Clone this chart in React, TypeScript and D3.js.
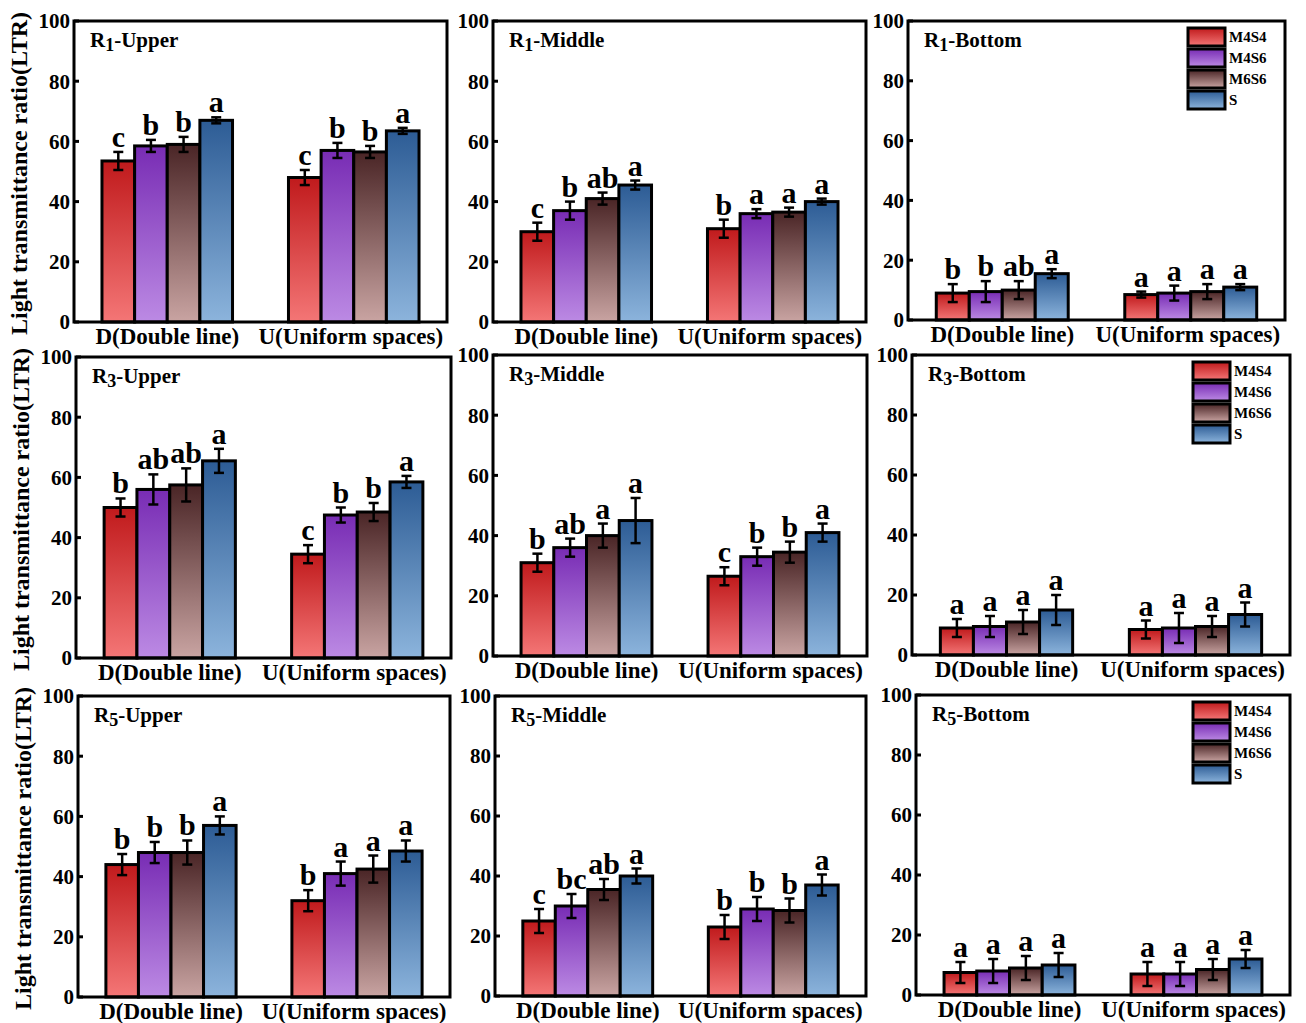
import React from 'react';
import * as d3 from 'd3';

const groups = ['D(Double line)', 'U(Uniform spaces)'];
const series = ['M4S4', 'M4S6', 'M6S6', 'S'];
const yTicks = [0, 20, 40, 60, 80, 100];
const yTitle = 'Light transmittance ratio(LTR)';

const panelRegion = ['1', '1', '1', '3', '3', '3', '5', '5', '5'];
const panelLayer = ['Upper', 'Middle', 'Bottom', 'Upper', 'Middle', 'Bottom', 'Upper', 'Middle', 'Bottom'];

// means [D values, U values] for each panel
const r1UpperMean = [[53.5, 58.5, 59, 67], [48, 57, 56.5, 63.5]];
const r1UpperErr = [[3, 2, 2.5, 1], [2.5, 2.5, 2, 1]];
const r1UpperSig = [['c', 'b', 'b', 'a'], ['c', 'b', 'b', 'a']];

const r1MiddleMean = [[30, 37, 41, 45.5], [31, 36, 36.5, 40]];
const r1MiddleErr = [[3, 3, 2, 1.5], [3, 1.5, 1.5, 1]];
const r1MiddleSig = [['c', 'b', 'ab', 'a'], ['b', 'a', 'a', 'a']];

const r1BottomMean = [[9, 9.5, 10, 15.5], [8.5, 9, 9.5, 11]];
const r1BottomErr = [[3, 3.5, 3, 1.5], [1, 2.5, 2.5, 1]];
const r1BottomSig = [['b', 'b', 'ab', 'a'], ['a', 'a', 'a', 'a']];

const r3UpperMean = [[50, 56, 57.5, 65.5], [34.5, 47.5, 48.5, 58.5]];
const r3UpperErr = [[3, 5, 5.5, 4], [3, 2.5, 3, 2]];
const r3UpperSig = [['b', 'ab', 'ab', 'a'], ['c', 'b', 'b', 'a']];

const r3MiddleMean = [[31, 36, 40, 45], [26.5, 33, 34.5, 41]];
const r3MiddleErr = [[3, 3, 4, 7.5], [3, 3, 3.5, 3]];
const r3MiddleSig = [['b', 'ab', 'a', 'a'], ['c', 'b', 'b', 'a']];

const r3BottomMean = [[9, 9.5, 11, 15], [8.5, 9, 9.5, 13.5]];
const r3BottomErr = [[3, 3.5, 4, 5], [3, 5, 3.5, 4]];
const r3BottomSig = [['a', 'a', 'a', 'a'], ['a', 'a', 'a', 'a']];

const r5UpperMean = [[44, 48, 48, 57], [32, 41, 42.5, 48.5]];
const r5UpperErr = [[3.5, 3.5, 4, 3], [3.5, 4, 4.5, 3.5]];
const r5UpperSig = [['b', 'b', 'b', 'a'], ['b', 'a', 'a', 'a']];

const r5MiddleMean = [[25, 30, 35.5, 40], [23, 29, 28.5, 37]];
const r5MiddleErr = [[4, 4, 3.5, 2.5], [4, 4, 4, 3.5]];
const r5MiddleSig = [['c', 'bc', 'ab', 'a'], ['b', 'b', 'b', 'a']];

const r5BottomMean = [[7.5, 8, 9, 10], [7, 7, 8.5, 12]];
const r5BottomErr = [[3.5, 4, 4, 4], [4, 4, 3.5, 3]];
const r5BottomSig = [['a', 'a', 'a', 'a'], ['a', 'a', 'a', 'a']];

const allMeans = [r1UpperMean, r1MiddleMean, r1BottomMean, r3UpperMean, r3MiddleMean, r3BottomMean, r5UpperMean, r5MiddleMean, r5BottomMean];
const allErrs = [r1UpperErr, r1MiddleErr, r1BottomErr, r3UpperErr, r3MiddleErr, r3BottomErr, r5UpperErr, r5MiddleErr, r5BottomErr];
const allSigs = [r1UpperSig, r1MiddleSig, r1BottomSig, r3UpperSig, r3MiddleSig, r3BottomSig, r5UpperSig, r5MiddleSig, r5BottomSig];

// layout (pixel frames of each panel)
const frames = [
  { l: 74, r: 447, t: 21, b: 322 }, { l: 493, r: 866, t: 21, b: 322 }, { l: 908, r: 1285, t: 21, b: 320 },
  { l: 76, r: 451, t: 357, b: 658 }, { l: 493, r: 867, t: 355, b: 656 }, { l: 912, r: 1290, t: 355, b: 655 },
  { l: 78, r: 450, t: 696, b: 997 }, { l: 495, r: 866, t: 696, b: 996 }, { l: 916, r: 1290, t: 695, b: 995 },
];

const gradTop = ['#c01a1c', '#782cb4', '#4a2526', '#2d5c95'];
const gradBottom = ['#f47676', '#bc8ae4', '#c9a4a2', '#8cb4dc'];

const FONT = '"Liberation Serif", "Times New Roman", serif';

function Panel({ idx }: { idx: number }) {
  const f = frames[idx];
  const means = allMeans[idx];
  const errs = allErrs[idx];
  const sigs = allSigs[idx];
  const y = d3.scaleLinear().domain([0, 100]).range([f.b, f.t]);
  const x0 = d3.scaleBand<string>().domain(groups).range([f.l, f.r]).paddingInner(0.3).paddingOuter(0.15);
  const x1 = d3.scaleBand<string>().domain(series).range([0, x0.bandwidth()]).padding(0);
  const col = idx % 3;
  return (
    <g>
      {groups.map((g, gi) => (
        <g key={g}>
          {series.map((s, si) => {
            const v = means[gi][si];
            const e = errs[gi][si];
            const bx = (x0(g) as number) + (x1(s) as number);
            const bw = x1.bandwidth();
            const cx = bx + bw / 2;
            return (
              <g key={s}>
                <rect x={bx} y={y(v)} width={bw} height={y(0) - y(v)} fill={`url(#grad${si})`} stroke="#000" strokeWidth={3} />
                <line x1={cx} x2={cx} y1={y(v - e)} y2={y(v + e)} stroke="#000" strokeWidth={2.5} />
                <line x1={cx - 5} x2={cx + 5} y1={y(v - e)} y2={y(v - e)} stroke="#000" strokeWidth={2.5} />
                <line x1={cx - 5} x2={cx + 5} y1={y(v + e)} y2={y(v + e)} stroke="#000" strokeWidth={2.5} />
                <text x={cx} y={y(v + e) - 5} textAnchor="middle" fontSize={30} fontWeight="bold" fontFamily={FONT}>{sigs[gi][si]}</text>
              </g>
            );
          })}
          <text x={(x0(g) as number) + x0.bandwidth() / 2 - gi * 3} y={f.b + 22} textAnchor="middle" fontSize={23} fontWeight="bold" fontFamily={FONT}>{g}</text>
        </g>
      ))}
      <rect x={f.l} y={f.t} width={f.r - f.l} height={f.b - f.t} fill="none" stroke="#000" strokeWidth={3} />
      {yTicks.map((t) => (
        <g key={t}>
          <line x1={f.l} x2={f.l + 5} y1={y(t)} y2={y(t)} stroke="#000" strokeWidth={3} />
          <text x={f.l - 4} y={y(t)} dy="0.35em" textAnchor="end" fontSize={21} fontWeight="bold" fontFamily={FONT}>{t}</text>
        </g>
      ))}
      <text x={f.l + 16} y={f.t + 26} fontSize={21} fontWeight="bold" fontFamily={FONT}>
        R<tspan fontSize={18} dy={4}>{panelRegion[idx]}</tspan><tspan dy={-4}>-{panelLayer[idx]}</tspan>
      </text>
      {col === 0 && (
        <text transform={`translate(${f.l - 47},${(f.t + f.b) / 2 + 2}) rotate(-90)`} textAnchor="middle" fontSize={24} fontWeight="bold" fontFamily={FONT}>{yTitle}</text>
      )}
      {col === 2 && (
        <g>
          {series.map((s, si) => (
            <g key={s}>
              <rect x={f.r - 97} y={f.t + 7 + si * 21} width={37} height={18} fill={`url(#grad${si})`} stroke="#000" strokeWidth={3} />
              <text x={f.r - 56} y={f.t + 16 + si * 21} dy="0.35em" fontSize={15} fontWeight="bold" fontFamily={FONT}>{s}</text>
            </g>
          ))}
        </g>
      )}
    </g>
  );
}

export default function App() {
  return (
    <svg width={1306} height={1023} style={{ position: 'absolute', left: 0, top: 0, background: '#fff' }}>
      <defs>
        {series.map((s, si) => (
          <linearGradient key={s} id={`grad${si}`} x1="0" y1="0" x2="0" y2="1">
            <stop offset="0%" stopColor={gradTop[si]} />
            <stop offset="100%" stopColor={gradBottom[si]} />
          </linearGradient>
        ))}
      </defs>
      <rect width={1306} height={1023} fill="#fff" />
      {frames.map((_, i) => <Panel key={i} idx={i} />)}
    </svg>
  );
}
